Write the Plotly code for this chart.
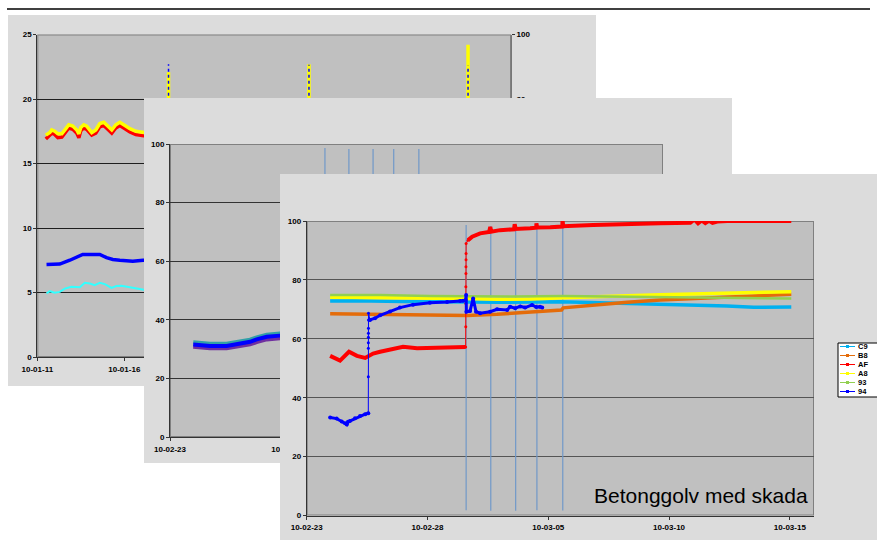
import pandas as pd
import plotly.graph_objects as go

W, H = 877, 540
FONT = "Liberation Sans, Arial, sans-serif"

# ---------------- DATA ----------------
# Panel 1 (back slide) - day offsets from P1_START
P1_START = "2010-01-11"
P1_RANGE = ["2010-01-11", "2010-02-07 05:15"]
P1_TICKVALS = ["2010-01-11", "2010-01-16", "2010-01-21", "2010-01-26", "2010-01-31", "2010-02-05"]
P1_TICKTEXT = ["10-01-11", "10-01-16", "10-01-21", "10-01-26", "10-01-31", "10-02-05"]
P1_LEFT_TICKS = [0, 5, 10, 15, 20, 25]
P1_RIGHT_TICKS = [0, 20, 40, 60, 80, 100]

p1_yellow_days = [0.49, 0.72, 0.83, 1.0, 1.18, 1.41, 1.64, 1.81, 2.04, 2.27, 2.39, 2.5, 2.67, 2.84,
                  3.13, 3.36, 3.59, 3.82, 4.05, 4.28, 4.51, 4.74, 4.97, 5.32, 5.66, 6.12, 6.6]
p1_yellow_vals = [17.2, 17.4, 17.6, 17.5, 17.3, 17.3, 17.7, 18.0, 17.9, 17.6, 17.3, 17.8, 18.0, 17.9,
                  17.4, 17.6, 18.1, 18.2, 17.9, 17.6, 18.0, 18.2, 18.0, 17.7, 17.5, 17.4, 17.3]
p1_red_vals = [16.9, 17.2, 17.35, 17.25, 17.0, 17.05, 17.45, 17.75, 17.65, 17.35, 17.0, 17.55, 17.75, 17.65,
               17.2, 17.35, 17.85, 17.95, 17.65, 17.35, 17.75, 17.95, 17.75, 17.45, 17.25, 17.15, 17.05]
p1_blue_days = [0.53, 1.0, 1.29, 1.87, 2.33, 2.61, 3.0, 3.59, 3.98, 4.34, 4.74, 5.13, 5.49, 6.08, 6.6]
p1_blue_vals = [7.17, 7.2, 7.2, 7.5, 7.76, 7.95, 7.95, 7.95, 7.7, 7.56, 7.5, 7.48, 7.43, 7.5, 7.5]
p1_cyan_days = [0.53, 0.72, 1.0, 1.29, 1.58, 1.97, 2.44, 2.73, 3.02, 3.3, 3.59, 3.88, 4.26, 4.55,
                4.84, 5.32, 6.08, 6.6]
p1_cyan_vals = [4.93, 5.1, 4.98, 5.05, 5.3, 5.44, 5.4, 5.75, 5.7, 5.57, 5.75, 5.65, 5.36, 5.5,
                5.52, 5.4, 5.19, 5.1]
# spikes (right axis, %)
p1_spike_days = [7.54, 15.61, 24.75]
p1_spike_base = [68, 68, 68]
p1_spike_yellow_top = [88.3, 90.8, 96.8]
p1_spike_blue_top = [90.8, 90.6, 90.4]

# Panel 2 (middle slide) - day offsets from P23_START
P23_START = "2010-02-23"
P23_RANGE = ["2010-02-23", "2010-03-16"]
P23_TICKVALS = ["2010-02-23", "2010-02-28", "2010-03-05", "2010-03-10", "2010-03-15"]
P23_TICKTEXT = ["10-02-23", "10-02-28", "10-03-05", "10-03-10", "10-03-15"]
P23_Y_TICKS = [0, 20, 40, 60, 80, 100]

p2_days = [0.99, 1.70, 2.41, 2.98, 3.41, 3.69, 4.12, 4.68, 5.4]
p2_teal_vals = [32.3, 31.8, 31.8, 32.6, 33.2, 34.0, 34.9, 35.3, 35.7]
p2_blue_vals = [31.6, 31.1, 31.1, 31.9, 32.5, 33.3, 34.2, 34.6, 35.0]
p2_purple_vals = [30.8, 30.3, 30.3, 31.0, 31.6, 32.4, 33.3, 33.7, 34.1]

# vertical marker lines (panel 2 and 3)
vline_days = [6.6, 7.62, 8.65, 9.53, 10.6]
vline_low = [1.8, 1.6, 1.6, 1.8, 1.7]
vline_high = [98.6, 98.3, 98.3, 98.3, 98.3]

# Panel 3 (front slide)
P3_NAMES = ["C9", "B8", "AF", "A8", "93", "94"]
P3_COLORS = ["#00b0f0", "#e46c0a", "#ff0000", "#ffff00", "#92d050", "#0000ff"]

c9_days = [0.97, 2.0, 4.0, 6.0, 8.0, 10.5, 11.9, 13.3, 14.6, 16.0, 17.4, 18.5, 20.06]
c9_vals = [72.8, 72.9, 72.7, 72.5, 72.4, 72.6, 72.3, 72.2, 71.8, 71.5, 71.1, 70.7, 70.8]

b8_days = [0.97, 3.04, 5.1, 6.64, 7.88, 9.25, 10.55, 10.62, 11.86, 13.27, 14.64, 16.0, 17.41, 18.78, 20.06]
b8_vals = [68.5, 68.3, 67.9, 67.9, 68.3, 69.2, 69.8, 70.5, 71.5, 72.4, 73.2, 73.7, 74.3, 74.8, 75.1]

a8_days = [0.97, 3.04, 5.1, 6.6, 7.88, 9.25, 10.62, 11.86, 13.27, 14.64, 16.0, 17.41, 18.78, 20.06]
a8_vals = [74.1, 74.0, 73.7, 73.7, 73.4, 73.5, 73.9, 74.1, 74.6, 75.0, 75.2, 75.7, 75.9, 76.0]

g93_days = [0.97, 3.04, 5.1, 6.6, 8.5, 10.62, 13.27, 16.0, 18.78, 20.06]
g93_vals = [74.9, 74.9, 74.5, 74.4, 74.4, 74.5, 74.3, 74.1, 73.7, 73.7]

af_pre_days = [0.97, 1.38, 1.75, 2.08, 2.42, 2.75, 3.04, 3.45, 3.99, 4.57, 5.1, 5.52, 6.14, 6.58]
af_pre_vals = [54.2, 52.6, 55.6, 54.2, 53.5, 55.0, 55.6, 56.2, 57.3, 56.8, 56.9, 57.0, 56.8, 57.2]
af_jump_days = [6.585, 6.587, 6.589, 6.591, 6.593, 6.595, 6.597, 6.599]
af_jump_vals = [64.1, 72.0, 77.7, 82.2, 84.5, 86.8, 89.0, 92.4]
af_post_days = [6.68, 6.85, 7.18, 7.55, 7.6, 7.64, 8.0, 8.58, 8.61, 8.65, 9.25, 9.5, 9.51, 9.54,
                10.08, 10.58, 10.59, 10.62, 11.86, 13.27, 14.64, 15.88, 16.05, 16.2, 16.35, 16.5,
                16.65, 16.8, 17.0, 17.41, 18.78, 20.06]
af_post_vals = [93.5, 94.7, 95.8, 96.3, 98.0, 96.4, 96.9, 97.2, 98.9, 97.3, 97.5, 97.7, 99.2, 97.8,
                97.9, 98.1, 100.3, 98.2, 98.6, 99.0, 99.2, 99.4, 100.5, 99.2, 100.2, 99.3, 100.1,
                99.4, 99.8, 100.0, 100.0, 100.0]

b94_pre_days = [0.97, 1.24, 1.45, 1.59, 1.66, 1.71, 1.79, 2.0, 2.21, 2.42, 2.55]
b94_pre_vals = [33.3, 32.9, 31.9, 31.3, 30.9, 31.8, 32.1, 33.0, 33.8, 34.4, 34.7]
b94_jump_days = [2.551, 2.552, 2.553, 2.554, 2.555, 2.556, 2.557, 2.558]
b94_jump_vals = [47.1, 56.8, 58.7, 60.5, 61.9, 63.6, 66.4, 68.7]
b94_post_days = [2.62, 2.83, 3.04, 3.45, 3.86, 4.4, 5.1, 5.81, 6.35, 6.47, 6.58, 6.6, 6.61, 6.76,
                 6.89, 7.01, 7.18, 7.59, 7.88, 8.3, 8.42, 8.63, 8.84, 9.04, 9.33, 9.5, 9.66, 9.75]
b94_post_vals = [66.4, 67.0, 68.0, 69.3, 70.6, 71.6, 72.2, 72.5, 72.8, 72.9, 73.2, 74.9, 69.2, 69.4,
                 73.7, 69.2, 68.7, 69.2, 70.0, 69.8, 70.9, 70.4, 71.0, 70.6, 71.5, 70.8, 70.9, 70.6]

TITLE_TEXT = "Betonggolv med skada"


# ---------------- helpers ----------------
def to_dates(start, days):
    base = pd.Timestamp(start)
    return [None if d is None else (base + pd.Timedelta(days=d)).strftime("%Y-%m-%d %H:%M:%S")
            for d in days]


def dx(p0, p1):
    return [p0 / W, min(p1 / W, 1.0)]


def dy(top, bottom):
    return [max(1 - bottom / H, 0.0), 1 - top / H]


fig = go.Figure()


def bg_panel(xa, ya, color):
    fig.add_trace(go.Scatter(x=[0, 1, 1, 0, 0], y=[0, 0, 1, 1, 0], fill="toself", fillcolor=color,
                             mode="lines", line=dict(width=0), hoverinfo="skip", showlegend=False,
                             xaxis=xa, yaxis=ya))


def line(xs, ys, color, width, xa, ya, markers=False, msize=3, dash=None):
    fig.add_trace(go.Scatter(x=xs, y=ys, mode="lines+markers" if markers else "lines",
                             line=dict(color=color, width=width, dash=dash),
                             marker=dict(color=color, size=msize),
                             showlegend=False, hoverinfo="skip", xaxis=xa, yaxis=ya))


# ---------------- Panel 1 ----------------
bg_panel("x", "y", "#dcdcdc")
line(to_dates(P1_START, p1_cyan_days), p1_cyan_vals, "#33ffff", 2, "x2", "y2")
line(to_dates(P1_START, p1_blue_days), p1_blue_vals, "#0000ff", 3.5, "x2", "y2")
line(to_dates(P1_START, p1_yellow_days), p1_red_vals, "#ff0000", 3.5, "x2", "y2")
line(to_dates(P1_START, p1_yellow_days), p1_yellow_vals, "#ffff00", 3.5, "x2", "y2")
sx, sy_y, sy_b = [], [], []
for d, b, ty, tb in zip(p1_spike_days, p1_spike_base, p1_spike_yellow_top, p1_spike_blue_top):
    sx += [d, d, None]
    sy_y += [b, ty, None]
    sy_b += [b, tb, None]
line(to_dates(P1_START, sx), sy_y, "#ffff00", 3.5, "x2", "y3")
line(to_dates(P1_START, sx), sy_b, "#0000ff", 1.5, "x2", "y3", dash="dot")

# ---------------- Panel 2 ----------------
bg_panel("x3", "y4", "#dcdcdc")
vx, vy = [], []
for d, lo, hi in zip(vline_days, vline_low, vline_high):
    vx += [d, d, None]
    vy += [lo, hi, None]
line(to_dates(P23_START, vx), vy, "#7098c8", 1.2, "x4", "y5")
p2x = to_dates(P23_START, p2_days)
line(p2x, p2_purple_vals, "#7030a0", 4, "x4", "y5")
line(p2x, p2_teal_vals, "#31a0a8", 4, "x4", "y5")
line(p2x, p2_blue_vals, "#0000ff", 4, "x4", "y5")

# ---------------- Panel 3 ----------------
bg_panel("x5", "y6", "#dcdcdc")
line(to_dates(P23_START, vx), vy, "#7098c8", 1.2, "x6", "y7")
line(to_dates(P23_START, c9_days), c9_vals, P3_COLORS[0], 3.5, "x6", "y7")
line(to_dates(P23_START, b8_days), b8_vals, P3_COLORS[1], 3.5, "x6", "y7")
# AF
line(to_dates(P23_START, af_pre_days + [None] + af_post_days), af_pre_vals + [None] + af_post_vals,
     P3_COLORS[2], 4, "x6", "y7")
line(to_dates(P23_START, af_pre_days[-1:] + af_jump_days + af_post_days[:1]),
     af_pre_vals[-1:] + af_jump_vals + af_post_vals[:1], P3_COLORS[2], 1, "x6", "y7", markers=True, msize=3)
line(to_dates(P23_START, a8_days), a8_vals, P3_COLORS[3], 3.5, "x6", "y7")
line(to_dates(P23_START, g93_days), g93_vals, P3_COLORS[4], 2.5, "x6", "y7")
# 94
line(to_dates(P23_START, b94_pre_days + [None] + b94_post_days), b94_pre_vals + [None] + b94_post_vals,
     P3_COLORS[5], 3, "x6", "y7", markers=True, msize=4)
line(to_dates(P23_START, b94_pre_days[-1:] + b94_jump_days + b94_post_days[:1]),
     b94_pre_vals[-1:] + b94_jump_vals + b94_post_vals[:1], P3_COLORS[5], 1, "x6", "y7", markers=True, msize=3)

# ---------------- Layout ----------------
tickfont = dict(family=FONT, size=8, color="black", weight="bold")
hidden = dict(visible=False, range=[0, 1], fixedrange=True)


def data_x(domain, rng, tv, tt, anchor):
    return dict(domain=domain, anchor=anchor, type="date", range=rng, tickmode="array", tickvals=tv,
                ticktext=tt, ticks="outside", ticklen=3, tickcolor="#333", showline=True,
                linecolor="#333", linewidth=1, showgrid=False, zeroline=False, tickfont=tickfont,
                ticklabelstandoff=1, fixedrange=True)


def data_y(domain, rng, tv, anchor, grid):
    return dict(domain=domain, anchor=anchor, range=rng, tickmode="array", tickvals=tv,
                ticks="outside", ticklen=3, tickcolor="#333", showline=True, linecolor="#333",
                linewidth=1, showgrid=True, gridcolor=grid, gridwidth=1, zeroline=False,
                tickfont=tickfont, fixedrange=True)


layout = dict(
    width=W, height=H,
    margin=dict(l=0, r=0, t=0, b=0, pad=0, autoexpand=False),
    paper_bgcolor="white", plot_bgcolor="rgba(0,0,0,0)",
    showlegend=False,
    xaxis=dict(hidden, domain=dx(8, 596), anchor="y"),
    yaxis=dict(hidden, domain=dy(15, 386), anchor="x"),
    xaxis2=data_x(dx(37.3, 511), P1_RANGE, P1_TICKVALS, P1_TICKTEXT, "y2"),
    yaxis2=data_y(dy(34.5, 357), [0, 25], P1_LEFT_TICKS, "x2", "#1e1e1e"),
    yaxis3=dict(overlaying="y2", anchor="x2", side="right", range=[0, 100], tickmode="array",
                tickvals=P1_RIGHT_TICKS, ticks="outside", ticklen=3, tickcolor="#333",
                showline=True, linecolor="#777", showgrid=False, zeroline=False,
                tickfont=tickfont, fixedrange=True),
    xaxis3=dict(hidden, domain=dx(144, 732), anchor="y4"),
    yaxis4=dict(hidden, domain=dy(98, 463), anchor="x3"),
    xaxis4=data_x(dx(170, 663), P23_RANGE, P23_TICKVALS, P23_TICKTEXT, "y5"),
    yaxis5=data_y(dy(144, 437), [0, 100], P23_Y_TICKS, "x4", "#333333"),
    xaxis5=dict(hidden, domain=dx(280, 877), anchor="y6"),
    yaxis6=dict(hidden, domain=dy(174, 540), anchor="x5"),
    xaxis6=data_x(dx(306.7, 814), P23_RANGE, P23_TICKVALS, P23_TICKTEXT, "y7"),
    yaxis7=data_y(dy(221, 515.5), [0, 100], P23_Y_TICKS, "x6", "#555555"),
)
fig.update_layout(**layout)

shapes = []
# plot-area fills (in each data subplot, below grid & traces)
for xa, ya, rng, yr in [("x2", "y2", P1_RANGE, [0, 25]), ("x4", "y5", P23_RANGE, [0, 100]),
                        ("x6", "y7", P23_RANGE, [0, 100])]:
    shapes.append(dict(type="rect", xref=xa, yref=ya, x0=rng[0], x1=rng[1], y0=yr[0], y1=yr[1],
                       fillcolor="#c0c0c0", line=dict(color="#808080", width=2), layer="below"))
# top rule
shapes.append(dict(type="line", xref="paper", yref="paper", x0=7 / W, x1=870 / W, y0=1 - 9 / H,
                   y1=1 - 9 / H, line=dict(color="black", width=1.5), layer="below"))
# legend box
shapes.append(dict(type="rect", xref="paper", yref="paper", x0=838 / W, x1=884 / W,
                   y0=1 - 397 / H, y1=1 - 343 / H, fillcolor="white",
                   line=dict(color="black", width=1), layer="above"))
annotations = []
for i, (name, col) in enumerate(zip(P3_NAMES, P3_COLORS)):
    yc = 1 - (346.5 + 9 * i) / H
    shapes.append(dict(type="line", xref="paper", yref="paper", x0=840 / W, x1=855 / W, y0=yc, y1=yc,
                       line=dict(color=col, width=1), layer="above"))
    shapes.append(dict(type="rect", xref="paper", yref="paper", x0=846 / W, x1=849 / W,
                       y0=yc - 1.5 / H, y1=yc + 1.5 / H, fillcolor=col, line=dict(width=0),
                       layer="above"))
    annotations.append(dict(text=name, xref="paper", yref="paper", x=856 / W, y=yc, xanchor="left",
                            yanchor="middle", showarrow=False,
                            font=dict(family=FONT, size=7.5, color="black", weight="bold")))
annotations.append(dict(text=TITLE_TEXT, xref="paper", yref="paper", x=700.5 / W, y=1 - 495 / H,
                        xanchor="center", yanchor="middle", showarrow=False,
                        font=dict(family=FONT, size=21, color="black")))
fig.update_layout(shapes=shapes, annotations=annotations)

fig.write_html("out.html", config={"displayModeBar": False},
               post_script="document.body.style.margin='0';document.body.style.overflow='hidden';")
